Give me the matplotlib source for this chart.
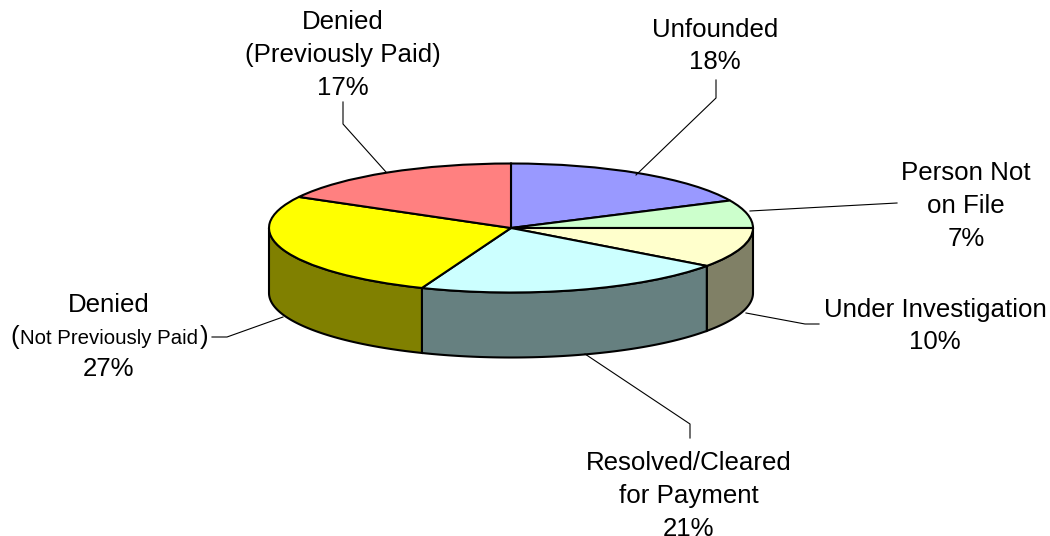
import numpy as np
import matplotlib
matplotlib.use("Agg")
import matplotlib.pyplot as plt
from matplotlib.patches import Polygon

plt.rcParams['font.family'] = ['Liberation Sans', 'DejaVu Sans']

categories = ["Unfounded", "Person Not on File", "Under Investigation",
              "Resolved/Cleared for Payment", "Denied (Not Previously Paid)",
              "Denied (Previously Paid)"]
shares = [18, 7, 10, 21, 27, 17]
top_colors = ["#9999FF", "#CCFFCC", "#FFFFCC", "#CCFFFF", "#FFFF00", "#FF8080"]
side_colors = ["#4D4D80", "#668066", "#808066", "#668080", "#808000", "#804040"]

W, H = 1050, 536
CX, CY, RX, RY, DEPTH = 511, 228, 242, 64.5, 65

fig = plt.figure(figsize=(W / 100, H / 100), dpi=100)

# pixel overlay for labels and leader lines
over = fig.add_axes([0, 0, 1, 1], zorder=3)
over.set_xlim(0, W)
over.set_ylim(H, 0)
over.axis("off")
over.patch.set_alpha(0)

# pie axes, one data unit is RX across and RY down, so the circle comes out squashed
ax = fig.add_axes([0, 0, 1, 1], zorder=1)
ax.pie(shares, colors=top_colors, startangle=90, counterclock=False, radius=1,
       wedgeprops=dict(edgecolor="black", linewidth=1.5, zorder=3))
ax.set_aspect("auto")
ax.set_xlim(-CX / RX, (W - CX) / RX)
ax.set_ylim((CY - H) / RY, CY / RY)

# side wall, only the front half of the rim can be seen
edges = np.cumsum([0] + shares) / sum(shares)
for i in range(len(shares)):
    lo, hi = max(edges[i], 0.25), min(edges[i + 1], 0.75)
    if hi <= lo:
        continue
    a = 2 * np.pi * np.linspace(lo, hi, 80)
    x, y = np.sin(a), np.cos(a)
    pts = np.vstack([np.c_[x, y], np.c_[x[::-1], y[::-1] - DEPTH / RY]])
    ax.add_patch(Polygon(pts, closed=True, facecolor=side_colors[i],
                         edgecolor="black", linewidth=1.5, zorder=2))

leaders = [
    ([636, 716, 716], [175, 98, 80]),
    ([750, 897], [211, 203]),
    ([746, 805, 819], [313, 324, 324]),
    ([585, 690, 690], [354, 424, 438]),
    ([283, 227, 212], [317, 337, 337]),
    ([386, 343, 343], [172, 124, 102]),
]
for xs, ys in leaders:
    over.plot(xs, ys, color="black", lw=0.8)

fs = 18.6
spacing = 1.46
labels = [
    (715, 46, "Unfounded\n18%"),
    (966, 206, "Person Not\non File\n7%"),
    (935, 326, "Under Investigation\n10%"),
    (689, 496, "Resolved/Cleared\nfor Payment\n21%"),
    (343, 55, "Denied\n(Previously Paid)\n17%"),
]
for x, y, s in labels:
    over.text(x, y, s, ha="center", va="center", fontsize=fs, linespacing=spacing)

over.text(109, 305, "Denied", ha="center", va="center", fontsize=fs)
over.text(108, 369, "27%", ha="center", va="center", fontsize=fs)
over.text(10, 337, "(", ha="left", va="center", fontsize=fs)
over.text(109, 338, "Not Previously Paid", ha="center", va="center", fontsize=14.7)
over.text(208, 337, ")", ha="right", va="center", fontsize=fs)

fig.savefig("out.png", dpi=100, facecolor="white")
